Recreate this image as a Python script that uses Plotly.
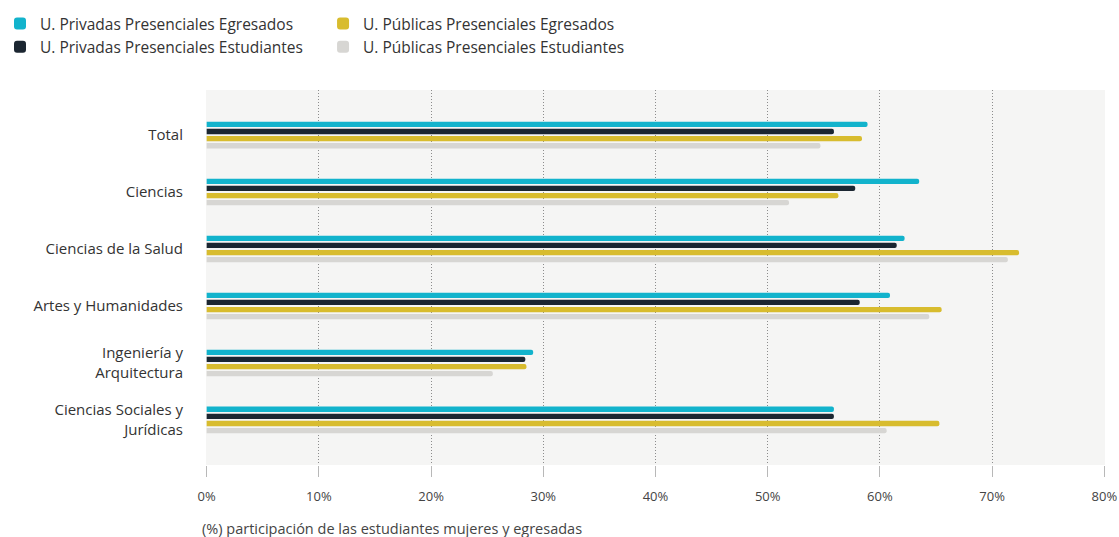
import plotly.graph_objects as go

categories = ["Total", "Ciencias", "Ciencias de la Salud", "Artes y Humanidades",
              "Ingeniería y<br>Arquitectura", "Ciencias Sociales y<br>Jurídicas"]

priv_egresados = [58.9, 63.5, 62.2, 60.9, 29.1, 55.9]
priv_estudiantes = [55.9, 57.8, 61.5, 58.2, 28.4, 55.9]
pub_egresados = [58.4, 56.3, 72.4, 65.5, 28.5, 65.3]
pub_estudiantes = [54.7, 51.9, 71.4, 64.4, 25.5, 60.6]

series = [
    ("U. Privadas Presenciales Egresados", priv_egresados, "#12b3cc", "legend"),
    ("U. Privadas Presenciales Estudiantes", priv_estudiantes, "#1b2631", "legend"),
    ("U. Públicas Presenciales Egresados", pub_egresados, "#d8bc2e", "legend2"),
    ("U. Públicas Presenciales Estudiantes", pub_estudiantes, "#d7d6d3", "legend2"),
]

FONT = "Open Sans"

fig = go.Figure()
for name, vals, color, leg in series:
    fig.add_trace(go.Bar(
        y=categories, x=vals, name=name, orientation="h",
        marker=dict(color=color, line=dict(width=0), cornerradius=3),
        legend=leg,
    ))

fig.update_layout(
    width=1119, height=537,
    margin=dict(l=206, r=14, t=90, b=72, autoexpand=False),
    paper_bgcolor="white",
    plot_bgcolor="#f5f5f4",
    barmode="group",
    bargap=0.5,
    bargroupgap=0.25,
    font=dict(family=FONT, color="#333333", size=14),
    legend=dict(x=0.0, y=0.987, xref="container", yref="container",
                xanchor="left", yanchor="top", orientation="v",
                font=dict(size=15.5, color="#333333"), tracegroupgap=0,
                bgcolor="rgba(0,0,0,0)"),
    legend2=dict(x=0.2887, y=0.987, xref="container", yref="container",
                 xanchor="left", yanchor="top", orientation="v",
                 font=dict(size=15.5, color="#333333"), tracegroupgap=0,
                 bgcolor="rgba(0,0,0,0)"),
    showlegend=True,
)

fig.update_xaxes(
    range=[-0.06, 80.06], tick0=0, dtick=10, ticksuffix="%",
    showgrid=True, gridcolor="#8c8c8c", griddash="1px,2px", gridwidth=1,
    zeroline=False, showline=False,
    ticks="outside", ticklen=11, tickcolor="#b8b8b8",
    ticklabelstandoff=8,
    tickfont=dict(size=13, color="#444444"),
)
fig.update_yaxes(
    type="category", categoryorder="array", categoryarray=categories,
    range=[5.79, -0.79], showgrid=False, zeroline=False, showline=False,
    ticks="", ticklabelstandoff=22,
    tickfont=dict(size=15, color="#333333"),
)

fig.add_annotation(
    text="(%) participación de las estudiantes mujeres y egresadas",
    xref="paper", yref="paper", x=-0.007, y=-0.17, xanchor="left", yanchor="middle",
    showarrow=False, font=dict(size=14.5, color="#444444"),
)

fig.write_html("out.html", config={"displayModeBar": False},
               post_script="document.body.style.margin='0';document.body.style.overflow='hidden';")
